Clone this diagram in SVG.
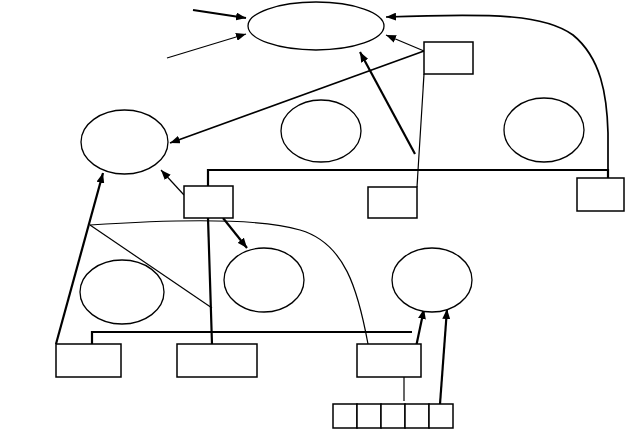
<svg xmlns="http://www.w3.org/2000/svg" width="625" height="429" viewBox="0 0 625 429">
<defs>
<marker id="ah" viewBox="0 0 10 8" refX="10" refY="4" markerWidth="10" markerHeight="8" markerUnits="userSpaceOnUse" orient="auto">
<path d="M0,0 L10,4 L0,8 Z" fill="#000"/>
</marker>
</defs>
<style>
.n{fill:#fff;stroke:#000;stroke-width:1.3}
.b{fill:#fff;stroke:#000;stroke-width:1.5}
.t{fill:none;stroke:#000;stroke-width:1.2}
.m{fill:none;stroke:#000;stroke-width:1.7}
.k{fill:none;stroke:#000;stroke-width:2.2}
.a{marker-end:url(#ah)}
</style>
<rect width="625" height="429" fill="#fff"/>
<g id="connectors">
<path class="k a" d="M193,10 L246,18"/>
<path class="t a" d="M167,58 L246,34"/>
<path class="m a" d="M608,170 L608,133 C607,95 601,58 573,35 C545,15 500,13 386,17"/>
<path class="t a" d="M424,51 L386,35"/>
<path class="m a" d="M424,51 L170,143"/>
<path class="k a" d="M415,154 L360,52"/>
<path class="t" d="M424,74 L417,187"/>
<path class="k" d="M208,187 L208,170 L608,170 L608,178"/>
<path class="t a" d="M184,195 L161,170"/>
<path class="k a" d="M56,344 L103,173"/>
<path class="t" d="M90,225 C180,219 260,218 300,230 C345,243 358,290 368,344"/>
<path class="t" d="M90,225 L212,308"/>
<path class="k" d="M208,218 L212,344"/>
<path class="k a" d="M223,218 L247,248"/>
<path class="k" d="M92,347 L92,332 L412,332"/>
<path class="k a" d="M416,347 L424,309"/>
<path class="k a" d="M440,404 L447,309"/>
<path class="t" d="M404,368 L404,401"/>
</g>
<g id="e-top"><ellipse class="n" cx="316" cy="26" rx="68" ry="24"/></g>
<g id="e-left"><ellipse class="n" cx="124.5" cy="142" rx="43.5" ry="32"/></g>
<g id="e-mid"><ellipse class="n" cx="321" cy="131" rx="40" ry="31"/></g>
<g id="e-right"><ellipse class="n" cx="544" cy="130" rx="40" ry="32"/></g>
<g id="e-lowleft"><ellipse class="n" cx="122" cy="292" rx="42" ry="32"/></g>
<g id="e-lowmid"><ellipse class="n" cx="264" cy="280" rx="40" ry="32"/></g>
<g id="e-lowright"><ellipse class="n" cx="432" cy="280" rx="40" ry="32"/></g>
<g id="box-topright"><rect class="b" x="424" y="42" width="49" height="32"/></g>
<g id="box-mid"><rect class="b" x="184" y="186" width="49" height="32"/></g>
<g id="box-midright"><rect class="b" x="368" y="187" width="49" height="31"/></g>
<g id="box-farright"><rect class="b" x="577" y="178" width="47" height="33"/></g>
<g id="box-bl"><rect class="b" x="56" y="344" width="65" height="33"/></g>
<g id="box-bm"><rect class="b" x="177" y="344" width="80" height="33"/></g>
<g id="box-br"><rect class="b" x="357" y="344" width="64" height="33"/></g>
<g id="array">
<rect class="b" x="333" y="404" width="24" height="24"/>
<rect class="b" x="357" y="404" width="24" height="24"/>
<rect class="b" x="381" y="404" width="24" height="24"/>
<rect class="b" x="405" y="404" width="24" height="24"/>
<rect class="b" x="429" y="404" width="24" height="24"/>
</g>
</svg>
